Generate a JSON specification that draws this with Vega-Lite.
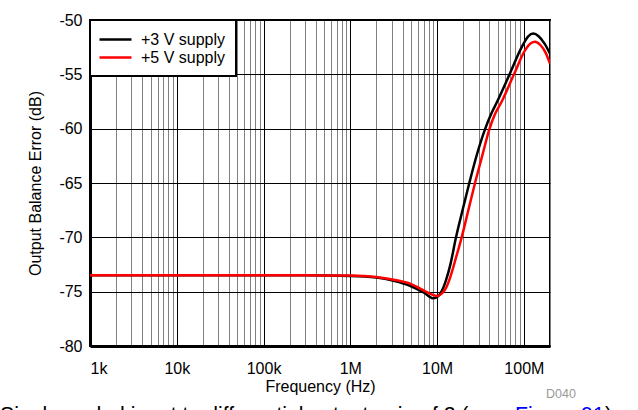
{
  "$schema": "https://vega.github.io/schema/vega-lite/v6.json",
  "width": 460,
  "height": 326,
  "autosize": {"type": "none"},
  "padding": {"left": 90, "top": 20, "right": 88, "bottom": 64},
  "background": "white",
  "config": {
    "font": "Liberation Sans",
    "view": {"stroke": "black", "strokeWidth": 2},
    "axis": {"labelFont": "Liberation Sans", "titleFont": "Liberation Sans", "labelColor": "black", "titleColor": "black", "labelFontSize": 16, "titleFontSize": 16, "titleFontWeight": "normal", "ticks": false, "domain": true, "domainColor": "black", "domainWidth": 3, "gridOpacity": 1, "gridWidth": 1},
    "legend": {"orient": "top-left", "offset": 0, "strokeColor": "black", "strokeWidth": 2, "fillColor": "white", "padding": 10, "labelFont": "Liberation Sans", "labelFontSize": 16, "labelColor": "black", "symbolType": "M-2,0H2", "symbolSize": 256, "symbolStrokeWidth": 2.5, "symbolOffset": 6, "labelOffset": 16, "rowPadding": 0}
  },
  "datasets": {
    "curves": [
      {"f": 1000, "db": -73.5, "s": "+3 V supply"},
      {"f": 3162, "db": -73.5, "s": "+3 V supply"},
      {"f": 10000, "db": -73.5, "s": "+3 V supply"},
      {"f": 31623, "db": -73.5, "s": "+3 V supply"},
      {"f": 100000, "db": -73.5, "s": "+3 V supply"},
      {"f": 316228, "db": -73.5, "s": "+3 V supply"},
      {"f": 1000000, "db": -73.55, "s": "+3 V supply"},
      {"f": 1995000, "db": -73.7, "s": "+3 V supply"},
      {"f": 3162000, "db": -74.0, "s": "+3 V supply"},
      {"f": 5012000, "db": -74.5, "s": "+3 V supply"},
      {"f": 7079000, "db": -75.1, "s": "+3 V supply"},
      {"f": 8913000, "db": -75.6, "s": "+3 V supply"},
      {"f": 10000000, "db": -75.5, "s": "+3 V supply"},
      {"f": 11220000, "db": -75.0, "s": "+3 V supply"},
      {"f": 12590000, "db": -74.0, "s": "+3 V supply"},
      {"f": 14130000, "db": -72.6, "s": "+3 V supply"},
      {"f": 16520000, "db": -70.0, "s": "+3 V supply"},
      {"f": 19500000, "db": -67.6, "s": "+3 V supply"},
      {"f": 23500000, "db": -65.0, "s": "+3 V supply"},
      {"f": 28710000, "db": -62.4, "s": "+3 V supply"},
      {"f": 35890000, "db": -60.0, "s": "+3 V supply"},
      {"f": 41690000, "db": -58.7, "s": "+3 V supply"},
      {"f": 48640000, "db": -57.6, "s": "+3 V supply"},
      {"f": 68390000, "db": -55.0, "s": "+3 V supply"},
      {"f": 94410000, "db": -52.5, "s": "+3 V supply"},
      {"f": 112200000, "db": -51.5, "s": "+3 V supply"},
      {"f": 128500000, "db": -51.25, "s": "+3 V supply"},
      {"f": 147900000, "db": -51.5, "s": "+3 V supply"},
      {"f": 173800000, "db": -52.2, "s": "+3 V supply"},
      {"f": 200000000, "db": -53.1, "s": "+3 V supply"},
      {"f": 1000, "db": -73.5, "s": "+5 V supply"},
      {"f": 3162, "db": -73.5, "s": "+5 V supply"},
      {"f": 10000, "db": -73.5, "s": "+5 V supply"},
      {"f": 31623, "db": -73.5, "s": "+5 V supply"},
      {"f": 100000, "db": -73.5, "s": "+5 V supply"},
      {"f": 316228, "db": -73.5, "s": "+5 V supply"},
      {"f": 1000000, "db": -73.52, "s": "+5 V supply"},
      {"f": 1995000, "db": -73.65, "s": "+5 V supply"},
      {"f": 3162000, "db": -73.9, "s": "+5 V supply"},
      {"f": 5012000, "db": -74.3, "s": "+5 V supply"},
      {"f": 7079000, "db": -74.9, "s": "+5 V supply"},
      {"f": 8913000, "db": -75.3, "s": "+5 V supply"},
      {"f": 10000000, "db": -75.4, "s": "+5 V supply"},
      {"f": 11220000, "db": -75.2, "s": "+5 V supply"},
      {"f": 12590000, "db": -74.7, "s": "+5 V supply"},
      {"f": 14130000, "db": -73.7, "s": "+5 V supply"},
      {"f": 16600000, "db": -71.8, "s": "+5 V supply"},
      {"f": 19190000, "db": -70.0, "s": "+5 V supply"},
      {"f": 22910000, "db": -67.5, "s": "+5 V supply"},
      {"f": 27350000, "db": -65.0, "s": "+5 V supply"},
      {"f": 33110000, "db": -62.5, "s": "+5 V supply"},
      {"f": 39810000, "db": -60.1, "s": "+5 V supply"},
      {"f": 46240000, "db": -58.7, "s": "+5 V supply"},
      {"f": 55590000, "db": -57.5, "s": "+5 V supply"},
      {"f": 76910000, "db": -55.0, "s": "+5 V supply"},
      {"f": 103000000, "db": -52.8, "s": "+5 V supply"},
      {"f": 120200000, "db": -52.15, "s": "+5 V supply"},
      {"f": 134300000, "db": -52.0, "s": "+5 V supply"},
      {"f": 154900000, "db": -52.3, "s": "+5 V supply"},
      {"f": 177800000, "db": -53.0, "s": "+5 V supply"},
      {"f": 200000000, "db": -54.0, "s": "+5 V supply"}
    ]
  },
  "layer": [
    {
      "data": {"name": "curves"},
      "mark": {"type": "line", "interpolate": "monotone", "strokeWidth": 2.5, "clip": true},
      "encoding": {
        "x": {
          "field": "f", "type": "quantitative",
          "scale": {"type": "log", "domain": [1000, 200000000], "nice": false},
          "axis": {
            "title": "Frequency (Hz)", "titlePadding": 2, "labelPadding": 14,
            "values": [1000,2000,3000,4000,5000,6000,7000,8000,9000,10000,20000,30000,40000,50000,60000,70000,80000,90000,100000,200000,300000,400000,500000,600000,700000,800000,900000,1000000,2000000,3000000,4000000,5000000,6000000,7000000,8000000,9000000,10000000,20000000,30000000,40000000,50000000,60000000,70000000,80000000,90000000,100000000,200000000],
            "labelExpr": "indexof([1000,10000,100000,1000000,10000000,100000000], datum.value) >= 0 ? format(datum.value, '~s') : ''",
            "gridColor": {"condition": {"test": "indexof([1000,10000,100000,1000000,10000000,100000000], datum.value) >= 0", "value": "black"}, "value": "#808080"}
          }
        },
        "y": {
          "field": "db", "type": "quantitative",
          "scale": {"domain": [-80, -50], "nice": false, "zero": false},
          "axis": {"title": "Output Balance Error (dB)", "values": [-80,-75,-70,-65,-60,-55,-50], "labelExpr": "datum.value + ''", "labelPadding": 8, "titlePadding": 15, "gridColor": "black"}
        },
        "color": {
          "field": "s", "type": "nominal",
          "scale": {"domain": ["+3 V supply", "+5 V supply"], "range": ["#000000", "#ff0000"]},
          "legend": {"title": null}
        }
      }
    },
    {
      "data": {"values": [{"f": 91.8, "db": -87.0, "label": "Single-ended input to differential output gain of 2 (see"}, {"f": 860500000, "db": -87.0, "label": ")"}]},
      "mark": {"type": "text", "align": "left", "baseline": "alphabetic", "fontSize": 21.2, "font": "Liberation Sans", "color": "black", "clip": false},
      "encoding": {"x": {"field": "f", "type": "quantitative"}, "y": {"field": "db", "type": "quantitative"}, "text": {"field": "label"}}
    },
    {
      "data": {"values": [{"f": 79020000, "db": -87.0, "label": "Figure 91"}]},
      "mark": {"type": "text", "align": "left", "baseline": "alphabetic", "fontSize": 21.2, "font": "Liberation Sans", "color": "#0000ff", "clip": false},
      "encoding": {"x": {"field": "f", "type": "quantitative"}, "y": {"field": "db", "type": "quantitative"}, "text": {"field": "label"}}
    },
    {
      "data": {"values": [{"f": 267700000, "db": -84.8, "label": "D040"}]},
      "mark": {"type": "text", "align": "center", "baseline": "alphabetic", "fontSize": 12.5, "font": "Liberation Sans", "color": "#999999", "clip": false},
      "encoding": {"x": {"field": "f", "type": "quantitative"}, "y": {"field": "db", "type": "quantitative"}, "text": {"field": "label"}}
    }
  ]
}
